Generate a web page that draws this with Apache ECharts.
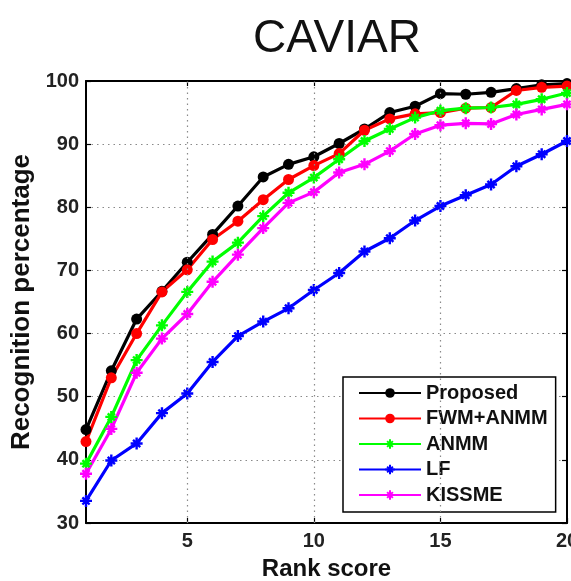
<!DOCTYPE html>
<html>
<head>
<meta charset="utf-8">
<script src="https://cdn.jsdelivr.net/npm/echarts@6/dist/echarts.min.js"></script>
<style>
html,body{margin:0;padding:0;background:#fff;}
#chart{width:571px;height:581px;}
</style>
</head>
<body>
<div id="chart"></div>
<script>
var ranks = [1,2,3,4,5,6,7,8,9,10,11,12,13,14,15,16,17,18,19,20];
var proposed = [44.8, 54.1, 62.3, 66.7, 71.3, 75.7, 80.2, 84.8, 86.8, 88.0, 90.1, 92.4, 95.0, 96.0, 98.0, 97.9, 98.2, 98.8, 99.4, 99.6];
var fwmAnmm = [42.9, 53.0, 60.0, 66.6, 70.1, 74.9, 77.8, 81.2, 84.4, 86.6, 88.5, 92.2, 94.0, 94.8, 95.0, 95.7, 95.8, 98.5, 99.0, 99.2];
var anmm = [39.4, 46.8, 55.8, 61.3, 66.6, 71.4, 74.4, 78.6, 82.3, 84.7, 87.6, 90.5, 92.4, 94.2, 95.3, 95.7, 95.8, 96.3, 97.1, 98.1];
var lf = [33.5, 39.9, 42.6, 47.4, 50.5, 55.5, 59.6, 61.9, 64.0, 66.9, 69.6, 73.0, 75.1, 77.9, 80.2, 81.9, 83.6, 86.5, 88.4, 90.5];
var kissme = [37.8, 44.9, 53.8, 59.2, 63.1, 68.2, 72.5, 76.7, 80.7, 82.4, 85.5, 86.8, 88.9, 91.6, 93.0, 93.3, 93.2, 94.7, 95.5, 96.3];
var seriesNames = ['Proposed', 'FWM+ANMM', 'ANMM', 'LF', 'KISSME'];
var seriesColors = ['#000000', '#ff0000', '#00ff00', '#0000ff', '#ff00ff'];
var xTickValues = [5, 10, 15, 20];
var xGridValues = [5, 10, 15];

var FONT = 'Liberation Sans, Arial, sans-serif';
var starPath = 'path://M0,-10L0,10M-10,0L10,0M-6,-6L6,6M-6,6L6,-6';

function pairs(vals){ return ranks.map(function(r,i){ return [r, vals[i]]; }); }

function mkSeries(name, vals, color, circle){
  return {
    name: name,
    type: 'line',
    data: pairs(vals),
    xAxisIndex: 0, yAxisIndex: 0,
    symbol: circle ? 'circle' : starPath,
    symbolSize: circle ? 11 : 12,
    showAllSymbol: true,
    lineStyle: {color: color, width: 3.2},
    itemStyle: {color: color, borderColor: color, borderWidth: circle ? 0 : 2.4, opacity: 1},
    emphasis: {disabled: true},
    animation: false,
    z: 3
  };
}

var chart = echarts.init(document.getElementById('chart'), null, {renderer: 'canvas'});
var dataSets = [proposed, fwmAnmm, anmm, lf, kissme];
var series = seriesNames.map(function(n, i){ return mkSeries(n, dataSets[i], seriesColors[i], i < 2); });

var dotted = {color: '#8a8a8a', type: [1.5, 4], width: 1.2};

// vertical grid lines at the x tick values
series.unshift({
  name: '_grid',
  type: 'line',
  data: [],
  xAxisIndex: 0, yAxisIndex: 0,
  z: 1,
  silent: true,
  markLine: {
    silent: true,
    symbol: ['none', 'none'],
    label: {show: false},
    lineStyle: dotted,
    emphasis: {disabled: true},
    animation: false,
    data: xGridValues.map(function(v){ return {xAxis: v}; })
  }
});

chart.setOption({
  backgroundColor: '#ffffff',
  animation: false,
  title: {
    text: 'CAVIAR',
    left: 332, top: 11,
    textAlign: 'center',
    textStyle: {fontFamily: FONT, fontSize: 46, fontWeight: 'normal', color: '#111'}
  },
  grid: {left: 86, right: 4, top: 81, bottom: 58, containLabel: false, outerBoundsMode: 'none'},
  legend: {
    orient: 'vertical',
    left: 343, top: 377,
    width: 215,
    data: seriesNames,
    itemWidth: 62, itemHeight: 12, itemGap: 5.5,
    padding: [6, 8, 7, 15],
    borderColor: '#000', borderWidth: 1.5,
    backgroundColor: '#fff',
    textStyle: {fontFamily: FONT, fontSize: 20, fontWeight: 'bold', color: '#111', lineHeight: 20},
    selectedMode: false
  },
  xAxis: [{
    type: 'value', min: 1, max: 20,
    position: 'bottom',
    name: 'Rank score', nameLocation: 'middle', nameGap: 34,
    nameTextStyle: {fontFamily: FONT, fontSize: 24, fontWeight: 'bold', color: '#111'},
    axisLine: {show: true, lineStyle: {color: '#000', width: 2}},
    axisTick: {show: true, inside: true, length: 5, customValues: xTickValues, lineStyle: {color: '#000', width: 1.2}},
    axisLabel: {customValues: xTickValues, margin: 8, fontFamily: FONT, fontSize: 20, fontWeight: 'bold', color: '#222'},
    splitLine: {show: false}
  }, {
    type: 'value', min: 1, max: 20,
    position: 'top',
    axisLine: {show: true, lineStyle: {color: '#000', width: 2}},
    axisTick: {show: true, inside: true, length: 5, customValues: xTickValues, lineStyle: {color: '#000', width: 1.2}},
    axisLabel: {show: false},
    splitLine: {show: false}
  }],
  yAxis: [{
    type: 'value', min: 30, max: 100, interval: 10,
    position: 'left',
    name: 'Recognition percentage', nameLocation: 'middle', nameGap: 47,
    nameTextStyle: {fontFamily: FONT, fontSize: 26, fontWeight: 'bold', color: '#111'},
    axisLine: {show: true, lineStyle: {color: '#000', width: 2}},
    axisTick: {show: true, inside: true, length: 5, lineStyle: {color: '#000', width: 1.2}},
    axisLabel: {margin: 7, fontFamily: FONT, fontSize: 20, fontWeight: 'bold', color: '#222'},
    splitLine: {show: true, lineStyle: dotted}
  }, {
    type: 'value', min: 30, max: 100, interval: 10,
    position: 'right',
    axisLine: {show: true, lineStyle: {color: '#000', width: 2}},
    axisTick: {show: true, inside: true, length: 5, lineStyle: {color: '#000', width: 1.2}},
    axisLabel: {show: false},
    splitLine: {show: false}
  }],
  series: series
});
</script>
</body>
</html>
